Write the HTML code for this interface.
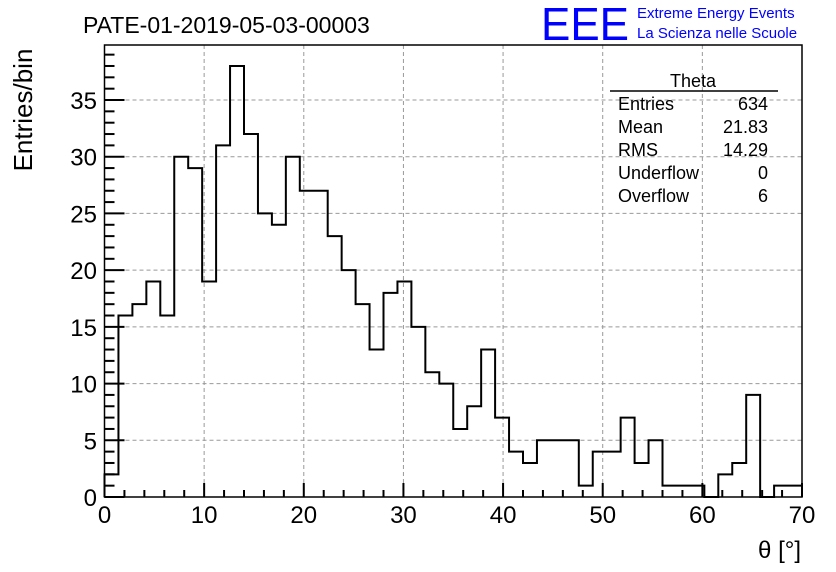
<!DOCTYPE html>
<html><head><meta charset="utf-8"><style>
body{margin:0;background:#fff;}
svg{display:block;font-family:"Liberation Sans",sans-serif;}
</style></head><body>
<svg id="c" width="836" height="572">
<text x="83" y="33" font-size="23">PATE-01-2019-05-03-00003</text>
<text x="541" y="40" font-size="46" fill="#0000ff" textLength="88" lengthAdjust="spacingAndGlyphs">EEE</text>
<text x="637" y="18" font-size="15" fill="#0000ff">Extreme Energy Events</text>
<text x="637" y="38" font-size="15" fill="#0000ff">La Scienza nelle Scuole</text>
<text transform="translate(32,110) rotate(-90)" text-anchor="middle" font-size="26">Entries/bin</text>
<text x="801" y="558" text-anchor="end" font-size="24">θ [°]</text>
<g id="grid"></g><g id="hist"></g><g id="axes"></g>
<g font-size="18">
<text x="693" y="87" text-anchor="middle">Theta</text>
<line x1="610" y1="91" x2="778" y2="91" stroke="#000" stroke-width="1.5"/>
<text x="618" y="110">Entries</text><text x="768" y="110" text-anchor="end">634</text>
<text x="618" y="133">Mean</text><text x="768" y="133" text-anchor="end">21.83</text>
<text x="618" y="156">RMS</text><text x="768" y="156" text-anchor="end">14.29</text>
<text x="618" y="179">Underflow</text><text x="768" y="179" text-anchor="end">0</text>
<text x="618" y="202">Overflow</text><text x="768" y="202" text-anchor="end">6</text>
</g>
</svg>
<script>
const binLow = 0, binWidth = 1.4;
const counts = [2,16,17,19,16,30,29,19,31,38,32,25,24,30,27,27,23,20,17,13,18,19,15,11,10,6,8,13,7,4,3,5,5,5,1,4,4,7,3,5,1,1,1,0,2,3,9,0,1,1];
const xTicks = [0,10,20,30,40,50,60,70];
const yTicks = [0,5,10,15,20,25,30,35];
const X0=104.5,X1=802,Y0=497,YT=45,xmax=70,ymax=39.85;
const sx=v=>X0+(X1-X0)*v/xmax, sy=v=>Y0-(Y0-YT)*v/ymax;
const NS='http://www.w3.org/2000/svg';
function mk(t,a,p){const e=document.createElementNS(NS,t);for(const k in a)e.setAttribute(k,a[k]);p.appendChild(e);return e;}
const grid=document.getElementById('grid'),hist=document.getElementById('hist'),axes=document.getElementById('axes');
xTicks.forEach(v=>{if(v>0&&v<xmax){const l=mk('line',{x1:sx(v),x2:sx(v),y1:Y0,y2:YT,stroke:'#999','stroke-dasharray':'4,3','stroke-width':1},grid);

}});
yTicks.forEach(v=>{if(v>0){const l=mk('line',{x1:X0,x2:X1,y1:sy(v),y2:sy(v),stroke:'#999','stroke-dasharray':'4,3','stroke-width':1},grid);

}});
let d='M'+sx(binLow)+','+sy(0);
counts.forEach((c,i)=>{const a=sx(binLow+i*binWidth),b=sx(binLow+(i+1)*binWidth);d+=' L'+a+','+sy(c)+' L'+b+','+sy(c);});
d+=' L'+sx(binLow+counts.length*binWidth)+','+sy(0);
const p=mk('path',{d:d,fill:'none',stroke:'#000','stroke-width':2},hist);


const fr=mk('rect',{x:X0,y:YT,width:X1-X0,height:Y0-YT,fill:'none',stroke:'#000','stroke-width':1.5},axes);


for(let v=0;v<=xmax;v+=2){const maj=v%10===0;mk('line',{x1:sx(v),x2:sx(v),y1:Y0,y2:Y0-(maj?14:7),stroke:'#000','stroke-width':2},axes);}
for(let v=0;v<=39;v++){const maj=v%5===0;mk('line',{x1:X0,x2:X0+(maj?20:10),y1:sy(v),y2:sy(v),stroke:'#000','stroke-width':2},axes);}
xTicks.forEach(v=>{const t=mk('text',{x:sx(v),y:523,'text-anchor':'middle','font-size':24},axes);t.textContent=v;

});
yTicks.forEach(v=>{const t=mk('text',{x:97,y:sy(v)+9,'text-anchor':'end','font-size':24},axes);t.textContent=v;

});
</script>
</body></html>
